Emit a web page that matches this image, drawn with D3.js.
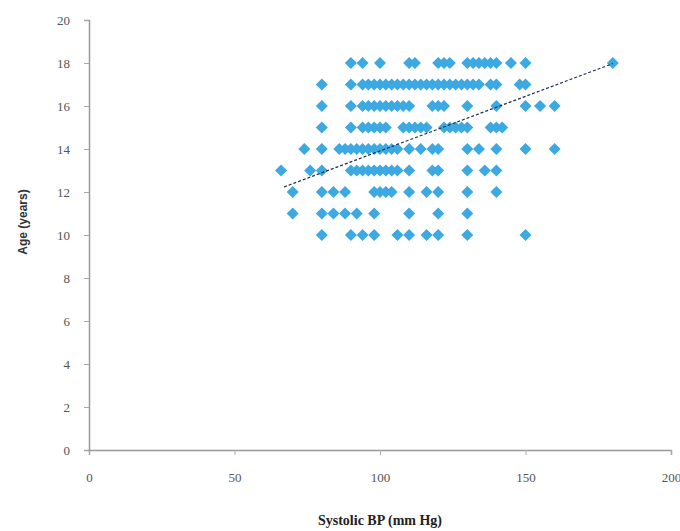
<!DOCTYPE html>
<html>
<head>
<meta charset="utf-8">
<script src="https://cdn.jsdelivr.net/npm/d3@7"></script>
<style>
  body { margin: 0; background: #fff; }
  svg { display: block; }
  .tick text { font-family: "Liberation Serif", "DejaVu Serif", serif; fill: #555; }
</style>
</head>
<body>
<svg id="chart" width="680" height="531"></svg>
<script>
// systolic BP readings (mm Hg) grouped by age in years
var ages = [18, 17, 16, 15, 14, 13, 12, 11, 10];
var bpByAge = [
  [90, 94, 100, 110, 112, 120, 122, 124, 130, 132, 134, 136, 138, 140, 145, 150, 180],
  [80, 90, 94, 96, 98, 100, 102, 104, 106, 108, 110, 112, 114, 116, 118, 120, 122, 124, 126, 128, 130, 132, 134, 138, 140, 148, 150],
  [80, 90, 94, 96, 98, 100, 102, 104, 106, 108, 110, 118, 120, 122, 130, 140, 150, 155, 160],
  [80, 90, 94, 96, 98, 100, 102, 108, 110, 112, 114, 116, 122, 124, 126, 128, 130, 138, 140, 142],
  [74, 80, 86, 88, 90, 92, 94, 96, 98, 100, 102, 104, 106, 110, 114, 118, 120, 130, 134, 140, 150, 160],
  [66, 76, 80, 90, 92, 94, 96, 98, 100, 102, 104, 106, 110, 118, 120, 130, 136, 140],
  [70, 80, 84, 88, 98, 100, 102, 104, 110, 116, 120, 130, 140],
  [70, 80, 84, 88, 92, 98, 110, 120, 130],
  [80, 90, 94, 98, 106, 110, 116, 120, 130, 150]
];
var xTicks = [0, 50, 100, 150, 200];
var yTicks = [0, 2, 4, 6, 8, 10, 12, 14, 16, 18, 20];
// linear trendline
var trendSlope = 0.0508;
var trendIntercept = 8.83;
var trendRange = [67, 180];

var svg = d3.select('#chart');
var plotLeft = 89, plotRight = 671, plotTop = 20, plotBottom = 450;

var x = d3.scaleLinear().domain([0, 200]).range([plotLeft, plotRight]);
var y = d3.scaleLinear().domain([0, 20]).range([plotBottom, plotTop]);

var points = [];
ages.forEach(function(age, i) {
  bpByAge[i].forEach(function(bp) { points.push({bp: bp, age: age}); });
});

var xAxis = svg.append('g')
  .attr('transform', 'translate(0,' + plotBottom + ')')
  .call(d3.axisBottom(x).tickValues(xTicks).tickSize(5).tickPadding(18));
var yAxis = svg.append('g')
  .attr('transform', 'translate(' + plotLeft + ',0)')
  .call(d3.axisLeft(y).tickValues(yTicks).tickSize(5).tickPadding(14));

[xAxis, yAxis].forEach(function(ax) {
  ax.select('.domain').attr('stroke', '#999').attr('stroke-width', 1.5);
  ax.selectAll('.tick line').attr('stroke', '#aaa');
  ax.selectAll('.tick text').style('font-size', '13px');
});

var r = 6;
var diamond = 'M0,' + (-r) + 'L' + r + ',0L0,' + r + 'L' + (-r) + ',0Z';

svg.append('g').selectAll('path')
  .data(points)
  .enter().append('path')
  .attr('d', diamond)
  .attr('transform', function(d) { return 'translate(' + x(d.bp) + ',' + y(d.age) + ')'; })
  .attr('fill', '#3ca9e2');

svg.append('line')
  .attr('x1', x(trendRange[0]))
  .attr('y1', y(trendSlope * trendRange[0] + trendIntercept))
  .attr('x2', x(trendRange[1]))
  .attr('y2', y(trendSlope * trendRange[1] + trendIntercept))
  .attr('stroke', '#1b2f55')
  .attr('stroke-width', 1.2)
  .attr('stroke-dasharray', '3,2');

svg.append('text')
  .attr('x', (plotLeft + plotRight) / 2)
  .attr('y', 525)
  .attr('text-anchor', 'middle')
  .style('font-family', '"Liberation Serif", serif')
  .style('font-weight', 'bold')
  .style('font-size', '14px')
  .attr('fill', '#222')
  .text('Systolic BP (mm Hg)');

svg.append('text')
  .attr('transform', 'translate(27,222) rotate(-90)')
  .attr('text-anchor', 'middle')
  .style('font-family', '"Liberation Sans", Arial, sans-serif')
  .style('font-weight', 'bold')
  .style('font-size', '12px')
  .attr('fill', '#333')
  .text('Age (years)');
</script>
</body>
</html>
